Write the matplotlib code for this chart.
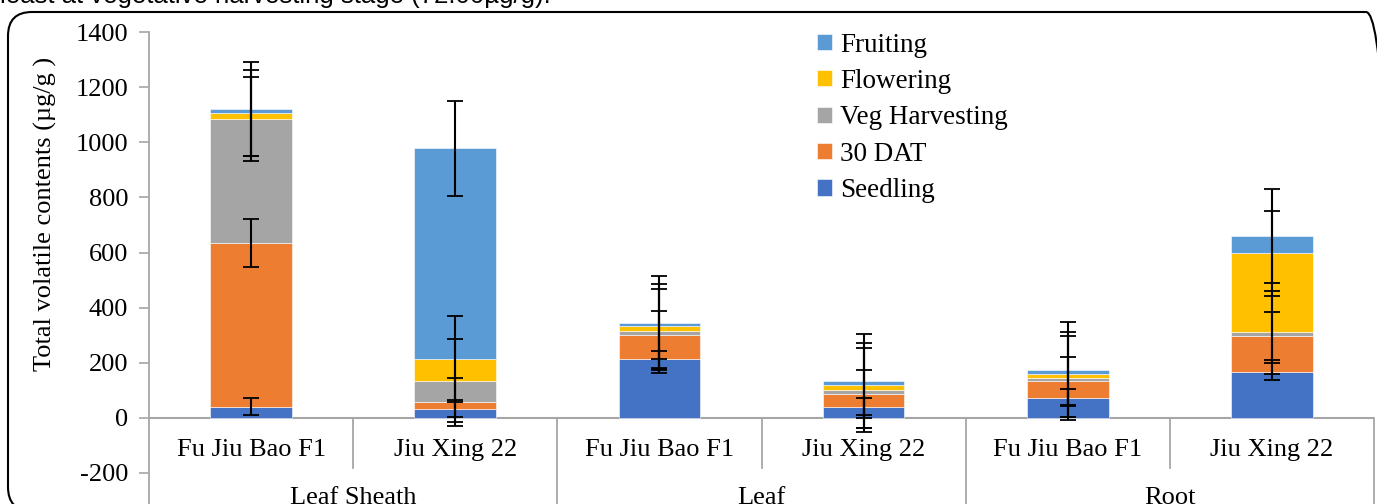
import matplotlib.pyplot as plt
import numpy as np
from matplotlib.patches import FancyBboxPatch
from matplotlib.transforms import IdentityTransform

# donnees (ug/g)
varietes = ["Fu Jiu Bao F1", "Jiu Xing 22"] * 3
organes = ["Leaf Sheath", "Leaf", "Root"]
stades = ["Seedling", "30 DAT", "Veg Harvesting", "Flowering", "Fruiting"]

seedling = [40, 33, 212, 39, 72, 167]
dat30 = [595, 25, 87, 48, 62, 131]
veg = [451, 77, 16, 14, 11, 12]
flowering = [21, 78, 17, 17, 12, 287]
fruiting = [14, 765, 11, 14, 18, 62]

# erreur standard (meme valeur pour toute la serie, comme Excel)
err_stade = [31, 87, 152, 155, 171]

couleurs = ["#4472C4", "#ED7D31", "#A5A5A5", "#FFC000", "#5B9BD5"]

W, H = 13.77, 5.04
fig = plt.figure(figsize=(W, H), dpi=100)
plt.rcParams['font.family'] = ['Liberation Serif', 'DejaVu Serif']
plt.rcParams['axes.unicode_minus'] = False

# position de l'axe en pixels
x0, x1 = 149, 1374
ytop = 32.3
ax = fig.add_axes([x0 / 1377, 0, (x1 - x0) / 1377, 1 - ytop / 504])

x = np.arange(len(varietes))
series = [seedling, dat30, veg, flowering, fruiting]
bas = np.zeros(len(x))
handles = []
for s, c, nom in zip(series, couleurs, stades):
    b = ax.bar(x, s, 0.4, bottom=bas, color=c, edgecolor="white", linewidth=0.4, label=nom, zorder=2)
    handles.append(b)
    bas = bas + np.array(s)

# barres d'erreur au sommet de chaque segment
bas = np.zeros(len(x))
for s, e in zip(series, err_stade):
    bas = bas + np.array(s)
    ax.errorbar(x, bas, yerr=e, fmt="none", ecolor="black", elinewidth=1.5, capsize=6, capthick=1.3, zorder=3)

ax.set_xlim(-0.5, 5.5)
ax.set_ylim(-313.5, 1400)
ax.set_yticks(np.arange(-200, 1401, 200))
ax.tick_params(axis="y", labelsize=19, length=7, color="#A6A6A6", width=1.2, pad=8)
ax.set_xticks([])
for sp in ["top", "right", "bottom"]:
    ax.spines[sp].set_visible(False)
ax.spines["left"].set_color("#A6A6A6")
ax.spines["left"].set_linewidth(1.3)

# axe horizontal a zero + separateurs de categories
ax.axhline(0, color="#A6A6A6", lw=1.5, zorder=1)
for i in range(1, 6):
    if i % 2 == 0:
        ax.plot([i - 0.5, i - 0.5], [0, -313.5], color="#A6A6A6", lw=1.3, clip_on=False)
    else:
        ax.plot([i - 0.5, i - 0.5], [0, -183], color="#A6A6A6", lw=1.3, clip_on=False)
ax.plot([5.5, 5.5], [0, -313.5], color="#A6A6A6", lw=1.3, clip_on=False)

for xi, v in zip(x, varietes):
    ax.text(xi, -117, v, ha="center", va="center", fontsize=19)
for k, org in enumerate(organes):
    ax.text(2 * k + 0.5, -292, org, ha="center", va="center", fontsize=19)

ax.set_ylabel("Total volatile contents (\u00b5g/g )", fontsize=19)
ax.yaxis.set_label_coords(-0.075, 0.615)

leg = ax.legend(handles[::-1], stades[::-1], loc="upper left", bbox_to_anchor=(0.532, 1.034),
                frameon=False, fontsize=19.5, handlelength=0.55, handleheight=0.55,
                handletextpad=0.3, labelspacing=0.42, borderaxespad=0.2)

# cadre arrondi de la zone du graphique (en pixels)
cadre = FancyBboxPatch((8, -7), 1382, 499, boxstyle="round,pad=0,rounding_size=24",
                       transform=IdentityTransform(), fill=False, edgecolor="black", lw=1.5)
fig.add_artist(cadre)

fig.text(0.0, 1 - 3 / 504, "least at vegetative harvesting stage (72.00\u00b5g/g).",
         family="Liberation Sans", fontsize=18.5, va="baseline", ha="left")

fig.savefig("out.png", dpi=100)
